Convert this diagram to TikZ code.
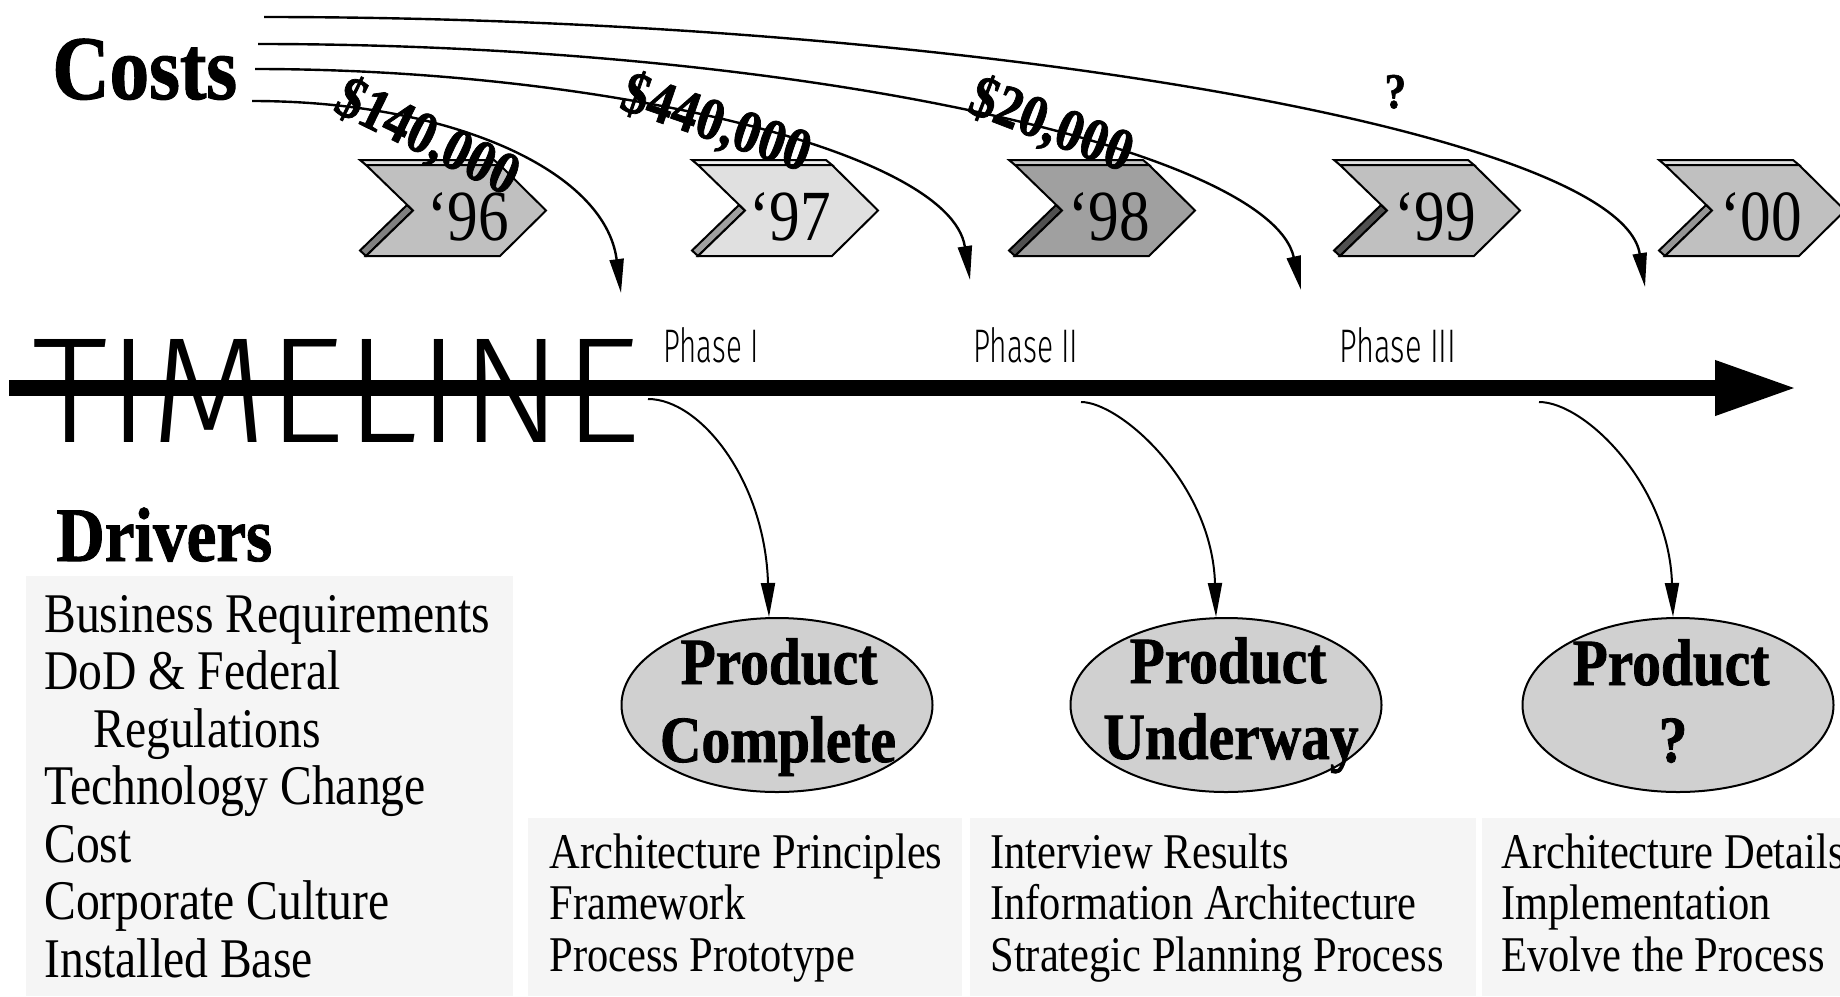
\documentclass[tikz,border=0pt]{standalone}
\usepackage{fontspec}
\setmainfont{Liberation Serif}
\newfontfamily\cond{Liberation Serif}[FakeStretch=0.85]
\newfontfamily\heavy{Liberation Serif}[FakeStretch=0.87,BoldFeatures={FakeBold=1.2}]
\IfFontExistsTF{Fira Sans Light}{\newfontfamily\thinsans{Fira Sans Light}}{%
 \IfFontExistsTF{Lato Light}{\newfontfamily\thinsans{Lato Light}}{%
  \IfFontExistsTF{Noto Sans Light}{\newfontfamily\thinsans{Noto Sans Light}}{%
   \newfontfamily\thinsans{Liberation Sans}}}}
\usetikzlibrary{arrows.meta,shapes.geometric}
\definecolor{boxfill}{HTML}{F5F5F5}
\definecolor{ellfill}{HTML}{D0D0D0}
\definecolor{fA}{HTML}{C0C0C0}\definecolor{tA}{HTML}{E0E0E0}\definecolor{dA}{HTML}{808080}
\definecolor{fB}{HTML}{E0E0E0}\definecolor{tB}{HTML}{F0F0F0}\definecolor{dB}{HTML}{A0A0A0}
\definecolor{fC}{HTML}{A0A0A0}\definecolor{tC}{HTML}{C8C8C8}\definecolor{dC}{HTML}{505050}
\definecolor{fD}{HTML}{C0C0C0}\definecolor{tD}{HTML}{E0E0E0}\definecolor{dD}{HTML}{505050}
\definecolor{fE}{HTML}{C0C0C0}\definecolor{tE}{HTML}{E0E0E0}\definecolor{dE}{HTML}{969696}
\newcommand\hvfont[1]{\heavy\bfseries\fontsize{#1}{#1}\selectfont}
\begin{document}
\begin{tikzpicture}[x=0.5pt,y=-0.5pt,
  hv/.style={inner sep=0pt, font=\hvfont{#1}},
  dtxt/.style={inner sep=0pt, anchor=base west, font=\cond\fontsize{28}{28}\selectfont},
  btxt/.style={inner sep=0pt, anchor=base west, font=\cond\fontsize{25}{25}\selectfont},
  yrtxt/.style={inner sep=0pt, anchor=base west, font=\cond\fontsize{36}{36}\selectfont},
  costcurve/.style={line width=1.2pt, -{Triangle[length=17pt,width=7pt]}},
  phasecurve/.style={line width=1pt, -{Triangle[length=17pt,width=7pt]}},
  chevline/.style={draw=black, line width=1pt, line join=miter},
  prod/.style={ellipse, draw=black, fill=ellfill, line width=1pt, inner sep=0pt,
    minimum width=155.5pt, minimum height=87pt}
]
\useasboundingbox (0,0) rectangle (1840,996);

% background boxes
\fill[boxfill] (26,576) rectangle (513,996);
\fill[boxfill] (528,818) rectangle (962,996);
\fill[boxfill] (970,818) rectangle (1476,996);
\fill[boxfill] (1482,818) rectangle (1840,996);

% chevrons
\foreach \X/\fc/\tc/\dc/\yr/\tx [count=\i] in
  {366/fA/tA/dA/96/427, 698/fB/tB/dB/97/749, 1015/fC/tC/dC/98/1068,
   1340/fD/tD/dD/99/1394, 1665/fE/tE/dE/00/1720}{
  \filldraw[chevline, fill=\tc] (\X-6,160) -- (\X+128,160) -- (\X+134,165) -- (\X,165) -- cycle;
  \filldraw[chevline, fill=\dc] (\X,256) -- (\X+47,210.5) -- (\X+41,205) -- (\X-6,250.5) -- cycle;
  \filldraw[chevline, fill=\fc] (\X,165) -- (\X+134,165) -- (\X+180,210.5) -- (\X+134,256)
     -- (\X,256) -- (\X+47,210.5) -- cycle;
  \node[yrtxt] (yr\i) at (\tx,240) {‘\yr};
}

% Costs
\node[hv=45.5, anchor=base west] (costs) at (52,99) {Costs};
\coordinate (cs1) at (264,17);
\coordinate (cs2) at (258,44);
\coordinate (cs3) at (255,69);
\coordinate (cs4) at (252,101);
\coordinate (ce1) at (1645,287);
\coordinate (ce2) at (1301,290);
\coordinate (ce3) at (970,280);
\coordinate (ce4) at (621,293);
\draw[costcurve] (cs1) .. controls (950,17) and (1620,130) .. (ce1);
\draw[costcurve] (cs2) .. controls (800,44) and (1270,150) .. (ce2);
\draw[costcurve] (cs3) .. controls (600,69) and (950,150) .. (ce3);
\draw[costcurve] (cs4) .. controls (450,101) and (605,170) .. (ce4);

\node[hv=30, rotate=-26] (k1) at (427,138) {\$140,000};
\node[hv=30, rotate=-19] (k2) at (716,124) {\$440,000};
\node[hv=30, rotate=-21] (k3) at (1051,126) {\$20,000};
\node[hv=25, anchor=base west] (k4) at (1384,108) {?};

% timeline
\node[inner sep=0pt, anchor=base west] (tl) at (32,442) {\resizebox{304pt}{51.5pt}{\thinsans TIMELINE}};
\coordinate (tl0) at (9,388);
\coordinate (tl1) at (1797,388);
\draw[line width=8pt, -{Triangle[length=41pt,width=25.5pt]}] (tl0) -- (tl1);
\node[inner sep=0pt, anchor=base west] (ph1) at (663,362) {\resizebox{47.5pt}{17.5pt}{\thinsans Phase I}};
\node[inner sep=0pt, anchor=base west] (ph2) at (973,362) {\resizebox{52.5pt}{17.5pt}{\thinsans Phase II}};
\node[inner sep=0pt, anchor=base west] (ph3) at (1339,362) {\resizebox{58.5pt}{17.5pt}{\thinsans Phase III}};

% products
\node[prod] (e1) at (777,705) {};
\node[prod] (e2) at (1226,705) {};
\node[prod] (e3) at (1678,705) {};
\node[hv=33, anchor=base] (e1a) at (779,684) {Product};
\node[hv=33, anchor=base] (e1b) at (778,762) {Complete};
\node[hv=33, anchor=base] (e2a) at (1228,683) {Product};
\node[hv=33, anchor=base] (e2b) at (1231,759) {Underway};
\node[hv=33, anchor=base] (e3a) at (1671,685) {Product};
\node[hv=33, anchor=base] (e3b) at (1673,762) {?};

\coordinate (p1) at (648,399);
\coordinate (p2) at (1081,402);
\coordinate (p3) at (1539,402);
\draw[phasecurve] (p1) .. controls (700,399) and (765,480) .. ([xshift=-4pt]e1.north);
\draw[phasecurve] (p2) .. controls (1120,402) and (1212,483) .. ([xshift=-5pt]e2.north);
\draw[phasecurve] (p3) .. controls (1585,402) and (1669,485) .. ([xshift=-2.5pt]e3.north);

% drivers
\node[hv=38.5, anchor=base west] (drv) at (56,561) {Drivers};
\node[dtxt] (d1) at (44,632) {Business Requirements};
\node[dtxt] (d2) at (44,689.5) {DoD \& Federal};
\node[dtxt] (d3) at (93,747) {Regulations};
\node[dtxt] (d4) at (44,804.5) {Technology Change};
\node[dtxt] (d5) at (44,862) {Cost};
\node[dtxt] (d6) at (44,919.5) {Corporate Culture};
\node[dtxt] (d7) at (44,977) {Installed Base};

% result lists
\node[btxt] (a1) at (549,868) {Architecture Principles};
\node[btxt] (a2) at (549,919.5) {Framework};
\node[btxt] (a3) at (549,971) {Process Prototype};
\node[btxt] (b1) at (990,868) {Interview Results};
\node[btxt] (b2) at (990,919.5) {Information Architecture};
\node[btxt] (b3) at (990,971) {Strategic Planning Process};
\node[btxt] (c1) at (1501,868) {Architecture Details};
\node[btxt] (c2) at (1501,919.5) {Implementation};
\node[btxt] (c3) at (1501,971) {Evolve the Process};
\end{tikzpicture}
\end{document}
